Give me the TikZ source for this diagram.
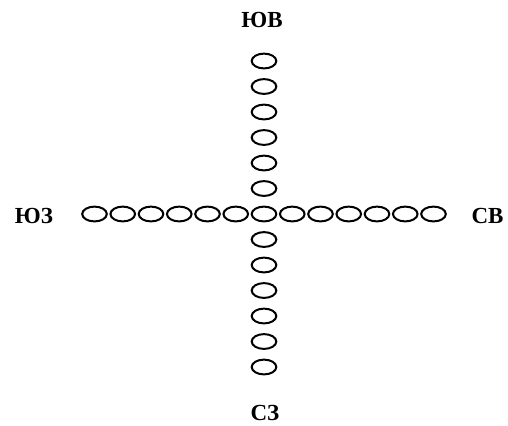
\documentclass[tikz,border=0pt]{standalone}
\usepackage{fontspec}
\setmainfont{Liberation Serif}
\usetikzlibrary{shapes.geometric}
\tikzset{
  ring/.style={draw,ellipse,line width=1pt,inner sep=0pt,minimum width=12.3pt,minimum height=7.4pt},
  side/.style={font=\fontsize{11.5}{13}\selectfont\bfseries}
}
\begin{document}
\begin{tikzpicture}[x=0.5pt,y=-0.5pt]
                \useasboundingbox (0,0) rectangle (508,425);
                %% centre of the cross
                \node[ring] (c) at (264,214) {};
                %% row
                \foreach \i in {1,...,6} {
                  \node[ring] (w\i) at (264-28.25*\i,214) {};
                  \node[ring] (e\i) at (264+28.25*\i,214) {};
                }
                %% column
                \foreach \i in {1,...,6} {
                  \node[ring] (n\i) at (264,214-25.5*\i) {};
                  \node[ring] (s\i) at (264,214+25.5*\i) {};
                }
                %% labels
                \node[side] (nl) at (262,19.5) {ЮВ};
                \node[side] (wl) at (34,216) {ЮЗ};
                \node[side] (el) at (487.5,216) {СВ};
                \node[side] (sl) at (265,412.5) {СЗ};
            \end{tikzpicture}
\end{document}
